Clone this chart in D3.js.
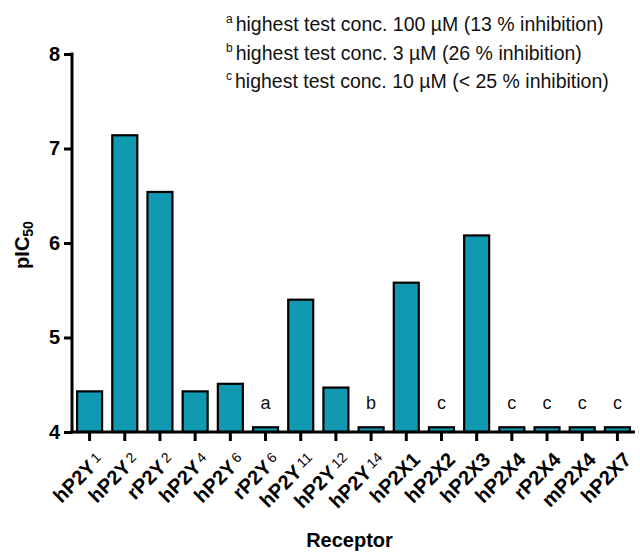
<!DOCTYPE html>
<html>
<head>
<meta charset="utf-8">
<script src="https://cdn.jsdelivr.net/npm/d3@7"></script>
<style>
  body { margin: 0; background: #fff; }
  svg { font-family: "Liberation Sans", Arial, sans-serif; }
</style>
</head>
<body>
<div id="chart"></div>
<script>
// receptor names, split into base + small index
var receptorBase = ['hP2Y', 'hP2Y', 'rP2Y', 'hP2Y', 'hP2Y', 'rP2Y', 'hP2Y', 'hP2Y', 'hP2Y',
                    'hP2X1', 'hP2X2', 'hP2X3', 'hP2X4', 'rP2X4', 'mP2X4', 'hP2X7'];
var receptorSub = ['1', '2', '2', '4', '6', '6', '11', '12', '14', '', '', '', '', '', '', ''];
// pIC50 values
var pic50 = [4.43, 7.14, 6.54, 4.43, 4.51, 4.05, 5.40, 4.47, 4.05,
             5.58, 4.05, 6.08, 4.05, 4.05, 4.05, 4.05];
// footnote letters above the bars
var notes = ['', '', '', '', '', 'a', '', '', 'b', '', 'c', '', 'c', 'c', 'c', 'c'];
var yTicks = [4, 5, 6, 7, 8];
var footLetters = ['a', 'b', 'c'];
var footTexts = ['highest test conc. 100 \u00b5M (13 % inhibition)',
                 'highest test conc. 3 \u00b5M (26 % inhibition)',
                 'highest test conc. 10 \u00b5M (< 25 % inhibition)'];

var width = 640, height = 553;
var x0 = 72, x1 = 635, yTop = 54, yBot = 432;

var svg = d3.select('#chart').append('svg')
    .attr('width', width)
    .attr('height', height);

var x = d3.scaleBand()
    .domain(d3.range(pic50.length))
    .range([x0, x1])
    .paddingInner(0.29)
    .paddingOuter(0.145);

var y = d3.scaleLinear()
    .domain([4, 8])
    .range([yBot, yTop]);

// bars
svg.append('g')
  .selectAll('rect')
  .data(pic50)
  .enter()
  .append('rect')
    .attr('x', function (d, i) { return x(i); })
    .attr('y', function (d) { return y(d); })
    .attr('width', x.bandwidth())
    .attr('height', function (d) { return y(4) - y(d); })
    .attr('fill', '#1199b2')
    .attr('stroke', '#000')
    .attr('stroke-width', 2.2);

// footnote marks
svg.append('g')
  .selectAll('text')
  .data(notes)
  .enter()
  .append('text')
    .attr('x', function (d, i) { return x(i) + x.bandwidth() / 2; })
    .attr('y', function (d, i) { return y(pic50[i]) - 18; })
    .attr('text-anchor', 'middle')
    .attr('font-size', 18)
    .attr('fill', '#111')
    .text(function (d) { return d; });

// y axis
var yAxis = svg.append('g')
    .attr('transform', 'translate(' + x0 + ',0)')
    .call(d3.axisLeft(y).tickValues(yTicks).tickSize(8).tickPadding(4).tickFormat(d3.format('d')));
yAxis.select('.domain').attr('stroke', '#000').attr('stroke-width', 3)
    .attr('d', 'M0,' + (yBot + 1.5) + 'V' + (yTop - 1.5));
yAxis.selectAll('.tick line').attr('stroke', '#000').attr('stroke-width', 3);
yAxis.selectAll('.tick text')
    .attr('font-size', 20).attr('font-weight', 'bold').attr('fill', '#000')
    .attr('font-family', '"Liberation Sans", Arial, sans-serif');

// x axis
var xAxis = svg.append('g')
    .attr('transform', 'translate(0,' + yBot + ')')
    .call(d3.axisBottom(x).tickSize(9).tickFormat(''));
xAxis.select('.domain').attr('stroke', '#000').attr('stroke-width', 3)
    .attr('d', 'M' + (x0 - 1.5) + ',0H' + x1);
xAxis.selectAll('.tick line').attr('stroke', '#000').attr('stroke-width', 3);

// rotated receptor labels
var lab = svg.append('g')
  .selectAll('text')
  .data(receptorBase)
  .enter()
  .append('text')
    .attr('transform', function (d, i) {
      var cx = x(i) + x.bandwidth() / 2;
      return 'translate(' + (cx + 15) + ',' + (yBot + 29) + ') rotate(-45)';
    })
    .attr('text-anchor', 'end')
    .attr('font-size', 20)
    .attr('font-weight', 'bold')
    .attr('fill', '#000');
lab.append('tspan').text(function (d) { return d; });
lab.append('tspan')
    .attr('font-size', 14)
    .attr('font-weight', 'normal')
    .attr('dx', 3)
    .attr('dy', -4)
    .text(function (d, i) { return receptorSub[i]; });

// axis titles
svg.append('text')
    .attr('x', (x0 + x1) / 2 - 4)
    .attr('y', 547)
    .attr('text-anchor', 'middle')
    .attr('font-size', 20)
    .attr('font-weight', 'bold')
    .text('Receptor');

var yl = svg.append('text')
    .attr('transform', 'translate(29,' + ((yTop + yBot) / 2 + 2) + ') rotate(-90)')
    .attr('text-anchor', 'middle')
    .attr('font-size', 20)
    .attr('font-weight', 'bold');
yl.append('tspan').text('pIC');
yl.append('tspan').attr('font-size', 14).attr('dy', 4).text('50');

// footnote legend
var leg = svg.append('g')
  .selectAll('text')
  .data(footTexts)
  .enter()
  .append('text')
    .attr('x', 226)
    .attr('y', function (d, i) { return 31 + i * 28.5; })
    .attr('font-size', 19.5)
    .attr('fill', '#111');
leg.append('tspan')
    .attr('font-size', 12)
    .attr('dy', -8)
    .text(function (d, i) { return footLetters[i]; });
leg.append('tspan')
    .attr('dx', 3)
    .attr('dy', 8)
    .text(function (d) { return d; });
</script>
</body>
</html>
